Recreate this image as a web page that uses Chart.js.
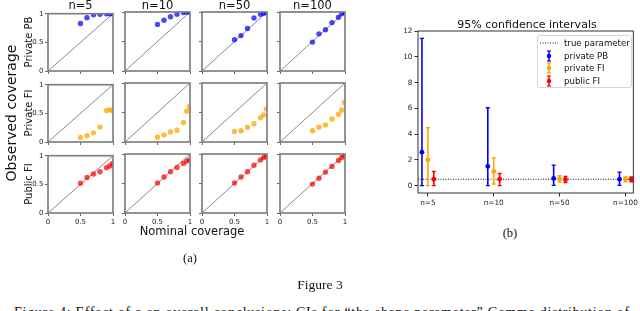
<!DOCTYPE html>
<html>
<head>
<meta charset="utf-8">
<script src="https://cdn.jsdelivr.net/npm/chart.js@4.4.1/dist/chart.umd.min.js"></script>
<style>
    body { margin: 0; background: #fff; }
    #page { position: relative; width: 640px; height: 311px; overflow: hidden; background: #fff; font-family: 'DejaVu Sans', sans-serif; color: #111; }
    canvas { position: absolute; }
    .txt { position: absolute; white-space: nowrap; transform: translate(-50%, -50%); color: #111; }
    .rot { transform: translate(-50%, -50%) rotate(-90deg); }
    .serif { font-family: 'Liberation Serif', 'Times New Roman', serif; }
    #legend { position: absolute; left: 537px; top: 35px; width: 95px; height: 53px; border: 1px solid #d6d6d6; border-radius: 3px; background: rgba(255,255,255,0.85); box-sizing: border-box; font-size: 8.6px; }
    #legend .row { position: absolute; left: 0; height: 12px; display: flex; align-items: center; }
    #legend svg { margin-left: 2px; margin-right: 6px; }
</style>
</head>
<body>
<div id="page">
    <div id="grid"></div>
    <canvas id="ciChart" width="260" height="200" style="left:380px;top:20px"></canvas>
    <div id="legend"></div>
</div>
<script>
// ---- data: left grid (observed vs nominal coverage) ----
const nominal = [0.5, 0.6, 0.7, 0.8, 0.9, 0.95, 0.99]
const sampleSizes = ['n=5', 'n=10', 'n=50', 'n=100']
const methods = ['Private PB', 'Private FI', 'Public FI']

// one array per sample size (n=5, n=10, n=50, n=100)
const privatePB = [
    [0.83, 0.93, 0.98, 0.99, 1.0, 1.0, 1.0],
    [0.79, 0.86, 0.92, 0.96, 0.99, 1.0, 1.0],
    [0.53, 0.60, 0.72, 0.90, 0.96, 0.98, 0.99],
    [0.49, 0.63, 0.70, 0.82, 0.91, 0.97, 0.99],
]
const privateFI = [
    [0.08, 0.11, 0.16, 0.26, 0.55, 0.56, 0.55],
    [0.08, 0.12, 0.17, 0.20, 0.33, 0.52, 0.60],
    [0.18, 0.19, 0.25, 0.31, 0.41, 0.46, 0.56],
    [0.19, 0.25, 0.29, 0.39, 0.47, 0.54, 0.67],
]
const publicFI = [
    [0.52, 0.62, 0.68, 0.72, 0.79, 0.82, 0.86],
    [0.51, 0.61, 0.70, 0.77, 0.84, 0.88, 0.90],
    [0.51, 0.61, 0.70, 0.81, 0.90, 0.94, 0.96],
    [0.49, 0.59, 0.69, 0.79, 0.89, 0.94, 0.97],
]
const unitTicks = [0, 0.5, 1]

// ---- data: right chart (95% confidence intervals) ----
const trueParam = 0.5
const pbCenter = [2.6, 1.5, 0.56, 0.5]
const pbLow = [0, 0, 0.02, 0.02]
const pbHigh = [11.45, 6.05, 1.6, 1.05]
const fiCenter = [2.0, 1.1, 0.52, 0.5]
const fiLow = [0, 0.13, 0.28, 0.31]
const fiHigh = [4.5, 2.15, 0.77, 0.67]
const pubCenter = [0.5, 0.5, 0.48, 0.5]
const pubLow = [0, 0, 0.25, 0.31]
const pubHigh = [1.1, 0.95, 0.72, 0.67]
const ciTicks = [0, 2, 4, 6, 8, 10, 12]
const ciSeries = ['private PB', 'private FI', 'public FI']

const colors = ['rgba(0,0,255,0.72)', 'rgba(255,165,0,0.75)', 'rgba(255,0,0,0.72)']
const solid = ['#0000ff', '#ffa500', '#ff0000']

const page = document.querySelector('#page')
const gridDiv = document.querySelector('#grid')

const framePlugin = {
    id: 'frame',
    afterDatasetsDraw(chart, args, opts) {
        const a = chart.chartArea
        const c = chart.ctx
        c.save()
        c.strokeStyle = opts.color
        c.lineWidth = opts.width
        c.strokeRect(a.left, a.top, a.right - a.left, a.bottom - a.top)
        c.restore()
    }
}

const addText = (text, x, y, size, extra = '') => {
    const d = document.createElement('div')
    d.className = 'txt ' + extra
    d.style.left = x + 'px'
    d.style.top = y + 'px'
    d.style.fontSize = size + 'px'
    d.textContent = text
    page.appendChild(d)
    return d
}

// cell geometry
const cellLeft = [48, 125, 202, 280]
const cellTop = [12, 83, 154]
const cellW = 65
const cellH = 59
const padL = 22, padT = 4, padR = 4, padB = 14

const drawCell = (row, col, values) => {
    const cv = document.createElement('canvas')
    cv.width = cellW + padL + padR
    cv.height = cellH + padT + padB
    cv.style.left = (cellLeft[col] - padL) + 'px'
    cv.style.top = (cellTop[row] - padT) + 'px'
    gridDiv.appendChild(cv)

    const tickFont = { family: 'DejaVu Sans', size: 7 }
    const axis = (show, fitKey, fitVal) => ({
        type: 'linear', min: 0, max: 1,
        afterFit: (s) => { s[fitKey] = fitVal },
        afterBuildTicks: (s) => { s.ticks = unitTicks.map(v => ({ value: v })) },
        grid: { drawOnChartArea: false, drawTicks: true, tickLength: 3, tickColor: '#666', tickWidth: 1 },
        border: { display: false },
        ticks: { display: show, font: tickFont, color: '#222', padding: 1.5, maxRotation: 0, callback: (v) => String(v) },
    })

    new Chart(cv, {
        type: 'scatter',
        data: {
            datasets: [
                {
                    data: nominal.map((x, i) => ({ x: x, y: values[i] })),
                    backgroundColor: colors[row],
                    borderWidth: 0,
                    pointRadius: 2.7,
                },
                {
                    data: [{ x: 0, y: 0 }, { x: 1, y: 1 }],
                    showLine: true,
                    borderColor: '#8a8a8a',
                    borderWidth: 1,
                    pointRadius: 0,
                },
            ],
        },
        options: {
            responsive: false,
            animation: false,
            devicePixelRatio: 1,
            events: [],
            layout: { padding: { top: padT, right: padR, left: 0, bottom: 0 } },
            plugins: {
                legend: { display: false },
                tooltip: { enabled: false },
                frame: { color: '#808080', width: 1.7 },
            },
            scales: {
                x: axis(row === 2, 'height', padB),
                y: axis(col === 0, 'width', padL),
            },
        },
        plugins: [framePlugin],
    })
}

const byMethod = [privatePB, privateFI, publicFI]
byMethod.forEach((m, row) => {
    m.forEach((vals, col) => drawCell(row, col, vals))
})

sampleSizes.forEach((s, col) => addText(s, cellLeft[col] + cellW / 2, 5, 11.5))
methods.forEach((m, row) => addText(m, 28, cellTop[row] + cellH / 2, 10, 'rot'))
addText('Observed coverage', 11, 113, 14, 'rot')
addText('Nominal coverage', 192, 231, 11.5)
addText('(a)', 190, 258, 12.5, 'serif')
addText('(b)', 510, 233, 12.5, 'serif')
addText('Figure 3', 320, 285, 13.5, 'serif')
const cap = addText('Figure 4: Effect of \u03b5 on overall conclusions: CIs for \u201cthe shape parameter\u201d Gamma distribution of', 322, 313, 14, 'serif')
cap.style.letterSpacing = '0.7px'

// ---- right chart ----
const xMin = -0.15
const xMax = 3.12
const seriesOffset = [-0.09, 0, 0.09]
const ciCenters = [pbCenter, fiCenter, pubCenter]
const ciLows = [pbLow, fiLow, pubLow]
const ciHighs = [pbHigh, fiHigh, pubHigh]

const barSets = ciSeries.map((name, s) => {
    const pts = []
    sampleSizes.forEach((n, i) => {
        const x = i + seriesOffset[s]
        pts.push({ x: x, y: ciLows[s][i] }, { x: x, y: ciHighs[s][i] }, { x: x, y: null })
    })
    return {
        label: name,
        data: pts,
        showLine: true,
        spanGaps: false,
        borderColor: solid[s],
        borderWidth: 1.6,
        pointStyle: 'line',
        pointRadius: 2,
        pointBorderColor: solid[s],
        pointBorderWidth: 1.4,
    }
})
const centerSets = ciSeries.map((name, s) => ({
    data: ciCenters[s].map((v, i) => ({ x: i + seriesOffset[s], y: v })),
    pointStyle: 'circle',
    pointRadius: 2.4,
    backgroundColor: solid[s],
    borderWidth: 0,
}))
const trueSet = {
    data: [{ x: xMin, y: trueParam }, { x: xMax, y: trueParam }],
    showLine: true,
    borderColor: '#111',
    borderWidth: 1,
    borderDash: [1, 1.5],
    pointRadius: 0,
}

const ciFont = { family: 'DejaVu Sans', size: 7.3 }
new Chart(document.getElementById('ciChart'), {
    type: 'scatter',
    data: { datasets: [...centerSets, ...barSets, trueSet] },
    options: {
        responsive: false,
        animation: false,
        devicePixelRatio: 1,
        events: [],
        layout: { padding: { top: 11, right: 6, left: 0, bottom: 0 } },
        plugins: {
            legend: { display: false },
            tooltip: { enabled: false },
            frame: { color: '#333', width: 1 },
        },
        scales: {
            x: {
                type: 'linear', min: xMin, max: xMax,
                afterFit: (s) => { s.height = 27 },
                afterBuildTicks: (s) => { s.ticks = sampleSizes.map((n, i) => ({ value: i })) },
                grid: { drawOnChartArea: false, tickLength: 3.5, tickColor: '#333' },
                border: { display: false },
                ticks: { font: ciFont, color: '#222', padding: 2, maxRotation: 0, callback: (v) => sampleSizes[v] },
            },
            y: {
                type: 'linear', min: -0.57, max: 12.02,
                afterFit: (s) => { s.width = 38 },
                afterBuildTicks: (s) => { s.ticks = ciTicks.map(v => ({ value: v })) },
                grid: { drawOnChartArea: false, tickLength: 3.5, tickColor: '#333' },
                border: { display: false },
                ticks: { font: ciFont, color: '#222', padding: 2 },
            },
        },
    },
    plugins: [framePlugin],
})
addText('95% confidence intervals', 527, 24, 11)

// legend
const legend = document.querySelector('#legend')
const rowTops = [1, 13.5, 26, 38.5]
const dotted = '<svg width="18" height="10"><line x1="0" y1="5" x2="18" y2="5" stroke="#111" stroke-width="1" stroke-dasharray="1,1.5"/></svg>'
const errGlyph = (c) => `<svg width="18" height="12"><line x1="9" y1="1" x2="9" y2="11" stroke="${c}" stroke-width="1.5"/><line x1="7" y1="1" x2="11" y2="1" stroke="${c}" stroke-width="1.2"/><line x1="7" y1="11" x2="11" y2="11" stroke="${c}" stroke-width="1.2"/><circle cx="9" cy="6" r="2.2" fill="${c}"/></svg>`
const legendRows = [['true parameter', dotted]].concat(ciSeries.map((n, s) => [n, errGlyph(solid[s])]))
legendRows.forEach(([label, glyph], i) => {
    const r = document.createElement('div')
    r.className = 'row'
    r.style.top = rowTops[i] + 'px'
    r.innerHTML = glyph + '<span>' + label + '</span>'
    legend.appendChild(r)
})
</script>
</body>
</html>
